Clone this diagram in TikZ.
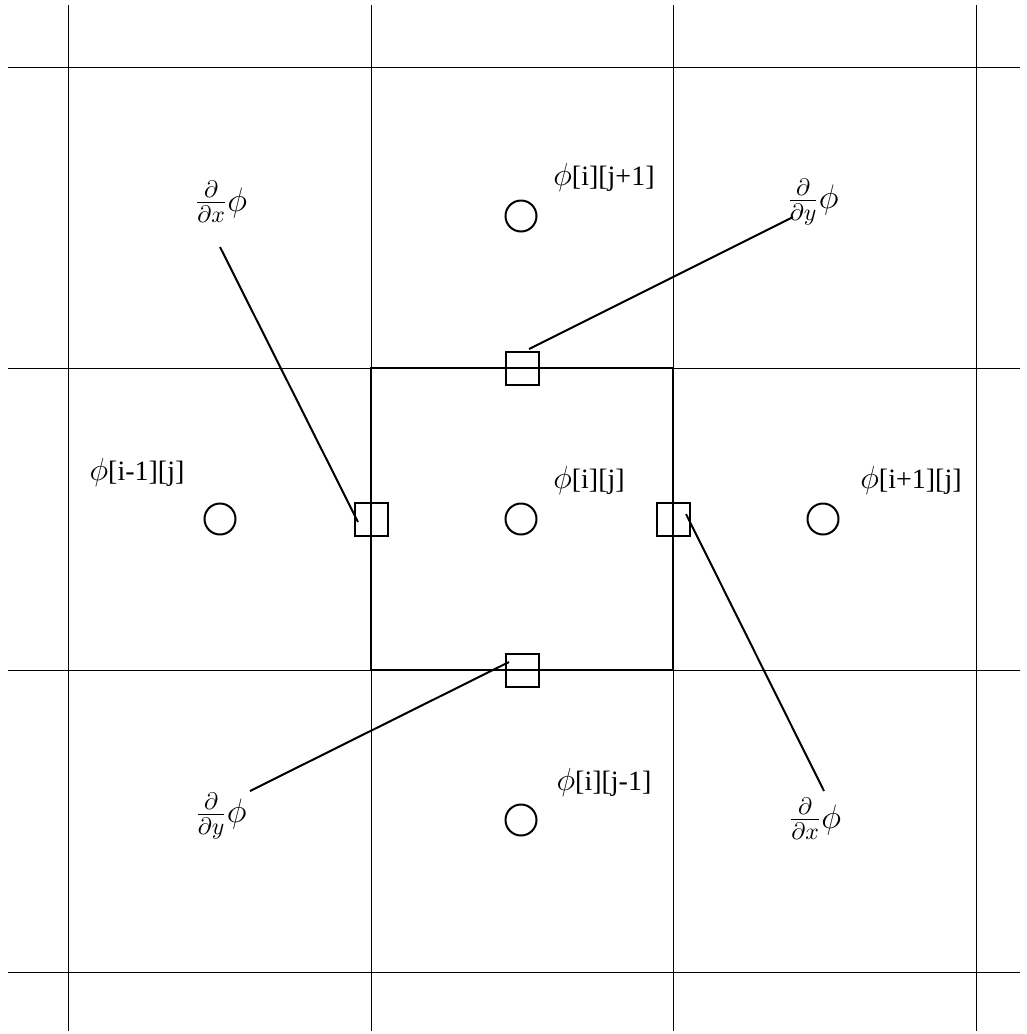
\RequirePackage{fix-cm}
\documentclass[tikz,border=0pt]{standalone}
\usepackage{fontspec}
\setmainfont{Liberation Serif}
\newfontfamily\lblfont{Liberation Serif}
\newcommand{\myphi}{{\fontsize{16}{18}\selectfont$\phi$}}
\begin{document}
\begin{tikzpicture}[x=0.5pt,y=-0.5pt,
  gridline/.style={line width=0.5pt},
  cellbox/.style={line width=1.2pt},
  cellpt/.style={circle,draw,line width=1pt,minimum size=15.5pt,inner sep=0pt},
  facept/.style={rectangle,draw,line width=1pt,minimum size=16.5pt,inner sep=0pt},
  leader/.style={line width=1pt},
  lbl/.style={font=\lblfont\fontsize{14}{16}\selectfont,inner sep=0pt},
  dlbl/.style={font=\lblfont\fontsize{17}{20}\selectfont,inner sep=0pt}]
\useasboundingbox (0,0) rectangle (1027,1034);
% grid
\foreach \x in {68,371,673,976} \draw[gridline] (\x,5) -- (\x,1031);
\foreach \y in {67,368,670,972} \draw[gridline] (8,\y) -- (1020,\y);
% central cell
\draw[cellbox] (371,368) rectangle (673,670);
% cell centres
\node[cellpt] (c0) at (521,519) {};
\node[cellpt] (cl) at (220,519) {};
\node[cellpt] (cr) at (823,519) {};
\node[cellpt] (ct) at (521,216) {};
\node[cellpt] (cb) at (521,820) {};
% face points
\node[facept] (sl) at (371,519) {};
\node[facept] (sr) at (673,519) {};
\node[facept] (st) at (522,368) {};
\node[facept] (sb) at (522,670) {};
% labels
\node[lbl] (l0) at (589,480) {\myphi[i][j]};
\node[lbl] (ll) at (137,472) {\myphi[i-1][j]};
\node[lbl] (lr) at (911,480) {\myphi[i+1][j]};
\node[lbl] (lt) at (604,177) {\myphi[i][j+1]};
\node[lbl] (lb) at (604,782) {\myphi[i][j-1]};
\node[dlbl] (dxl) at (221,202) {$\frac{\partial}{\partial x}\phi$};
\node[dlbl] (dyt) at (813,202) {$\frac{\partial}{\partial y}\phi$};
\node[dlbl] (dyb) at (221,816) {$\frac{\partial}{\partial y}\phi$};
\node[dlbl] (dxr) at (815,819) {$\frac{\partial}{\partial x}\phi$};
% leader ends
\coordinate (a1) at (220,247);
\coordinate (b1) at (358,522);
\coordinate (a2) at (793,217);
\coordinate (b2) at (529,349);
\coordinate (a3) at (250,791);
\coordinate (b3) at (509,662);
\coordinate (a4) at (824,791);
\coordinate (b4) at (686,514);
\draw[leader] (a1) -- (b1);
\draw[leader] (a2) -- (b2);
\draw[leader] (a3) -- (b3);
\draw[leader] (a4) -- (b4);
\end{tikzpicture}
\end{document}
